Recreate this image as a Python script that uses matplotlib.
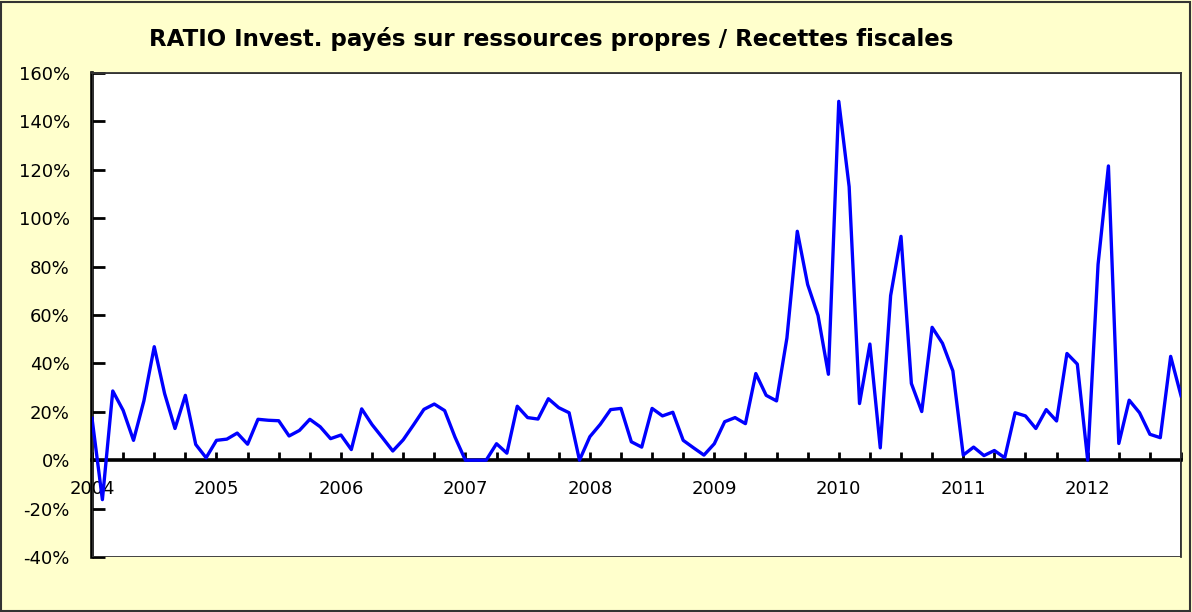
import numpy as np
import matplotlib
matplotlib.use("Agg")
import matplotlib.pyplot as plt
from matplotlib.patches import Rectangle
from matplotlib.ticker import FixedLocator, FuncFormatter

# monthly ratio, Jan 2004 -> Oct 2012 (in %)
ratio = [17.3, -16.3, 28.6, 20.6, 8.2, 24.5, 46.9, 27.5, 13.1, 26.8, 6.5, 1.0,
         8.2, 8.7, 11.2, 6.6, 16.9, 16.5, 16.3, 10.0, 12.3, 16.9, 13.8, 8.9,
         10.4, 4.4, 21.2, 14.7, 9.3, 3.8, 8.4, 14.6, 21.0, 23.2, 20.5, 9.5,
         0.0, 0.0, 0.0, 6.8, 2.9, 22.3, 17.6, 17.0, 25.4, 21.7, 19.6, 0.0,
         9.7, 14.8, 20.9, 21.4, 7.6, 5.4, 21.4, 18.3, 19.8, 8.2, 5.1, 2.1,
         6.8, 15.9, 17.6, 15.1, 35.8, 26.8, 24.5, 50.5, 94.6, 72.6, 59.8, 35.5,
         148.3, 113.0, 23.4, 48.0, 5.1, 68.0, 92.5, 31.7, 20.1, 54.9, 48.3, 36.9,
         2.1, 5.4, 1.9, 4.0, 1.0, 19.6, 18.3, 13.1, 20.9, 16.2, 44.1, 39.7,
         0.0, 80.9, 121.6, 6.9, 24.8, 19.6, 10.7, 9.3, 42.9, 26.6]
years = ["2004", "2005", "2006", "2007", "2008", "2009", "2010", "2011", "2012"]
y_ticks = [-40, -20, 0, 20, 40, 60, 80, 100, 120, 140, 160]

plt.rcParams["font.family"] = ["DejaVu Sans"]

fig = plt.figure(figsize=(11.92, 6.12), dpi=100)
fig.patch.set_facecolor("#FFFFCC")
fig.patches.append(Rectangle((0.001, 0.002), 0.997, 0.995, transform=fig.transFigure,
                             fill=False, ec="#333333", lw=1.5))

ax = fig.add_axes([0.0772, 0.0899, 0.9136, 0.7908])
ax.set_facecolor("white")

months = np.arange(len(ratio))
ax.plot(months, ratio, color="#0000FF", lw=2.4, zorder=5)

ax.set_xlim(0, len(ratio) - 1)
ax.set_ylim(-40, 160)

# zero axis carries the year labels
ax.spines["bottom"].set_position(("data", 0))
ax.spines["bottom"].set_linewidth(2.6)
ax.spines["bottom"].set_color("black")
ax.spines["left"].set_linewidth(2.6)
ax.spines["left"].set_color("black")
for side in ["top", "right"]:
    ax.spines[side].set_linewidth(1.3)
    ax.spines[side].set_color("#333333")
ax.add_patch(Rectangle((0, 0), 1, 1, transform=ax.transAxes, fill=False,
                       ec="#333333", lw=1.3, zorder=4))

ax.xaxis.set_major_locator(FixedLocator(np.arange(len(years)) * 12))
ax.xaxis.set_minor_locator(FixedLocator(np.arange(0, len(ratio), 3)))
ax.set_xticklabels(years)
ax.tick_params(axis="x", which="both", direction="in", length=6, width=2,
               color="black", labelsize=13, pad=14)

ax.set_yticks(y_ticks)
ax.yaxis.set_major_formatter(FuncFormatter(lambda v, p: f"{v:.0f}%"))
ax.tick_params(axis="y", direction="in", length=9, width=2, color="black",
               labelsize=13, pad=16)

fig.text(0.4623, 0.937, "RATIO Invest. payés sur ressources propres / Recettes fiscales",
         ha="center", va="center", fontsize=16.5, fontweight="bold")

fig.savefig("out.png", dpi=100, facecolor=fig.get_facecolor())
